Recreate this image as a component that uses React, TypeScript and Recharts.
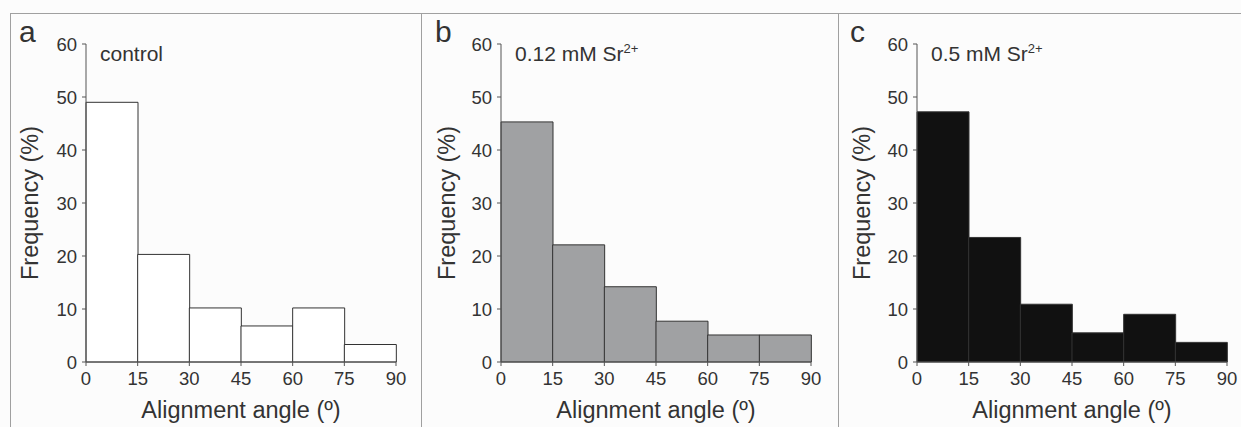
import React from 'react';
import { BarChart, Bar, XAxis, YAxis } from 'recharts';

const bins = ['0-15', '15-30', '30-45', '45-60', '60-75', '75-90'];
const controlValues = [49, 20.3, 10.2, 6.8, 10.2, 3.3];
const sr012Values = [45.3, 22.1, 14.2, 7.7, 5.1, 5.1];
const sr05Values = [47.2, 23.5, 10.9, 5.5, 9.0, 3.7];
const xTicks = [0, 15, 30, 45, 60, 75, 90];
const yTicks = [0, 10, 20, 30, 40, 50, 60];

const FONT = 'Liberation Sans, Arial, sans-serif';
const INK = '#333';
const AXIS = '#555';
const PLOT_W = 310;
const TICK_FS = 18.5;

// tick labels sit on the bin edges, not on the bin centres
function EdgeTick(props: any) {
  const { x, y, payload } = props;
  const half = payload && payload.offset ? payload.offset : PLOT_W / bins.length / 2;
  const i = bins.indexOf(payload.value);
  const edges = [{ bx: x - half, label: xTicks[i] }];
  if (i === bins.length - 1) edges.push({ bx: x + half, label: xTicks[i + 1] });
  return (
    <g>
      {edges.map((e) => (
        <g key={e.label}>
          <line x1={e.bx} x2={e.bx} y1={y} y2={y + 4} stroke={AXIS} />
          <text x={e.bx} y={y + 9} dy="0.75em" textAnchor="middle" fill={INK} fontSize={TICK_FS} fontFamily={FONT}>
            {e.label}
          </text>
        </g>
      ))}
    </g>
  );
}

type PanelProps = {
  letter: string;
  title: React.ReactNode;
  values: number[];
  fill: string;
  plotLeft: number;
  letterX: number;
  ytitleX: number;
};

function Panel({ letter, title, values, fill, plotLeft, letterX, ytitleX }: PanelProps) {
  const data = bins.map((bin, i) => ({ bin, value: values[i] }));
  const left = plotLeft - 60;
  return (
    <div style={{ position: 'absolute', left, top: 0, width: 390, height: 427 }}>
      <BarChart
        width={390}
        height={427}
        data={data}
        margin={{ top: 44, right: 20, bottom: 35, left: 0 }}
        barCategoryGap={0}
      >
        <XAxis
          dataKey="bin"
          interval={0}
          height={30}
          stroke={AXIS}
          tickLine={false}
          tickSize={0}
          tickMargin={0}
          tick={<EdgeTick />}
        />
        <YAxis
          domain={[0, 60]}
          ticks={yTicks}
          interval={0}
          width={60}
          stroke={AXIS}
          tickSize={4}
          tickMargin={5}
          tick={{ fill: INK, fontSize: TICK_FS, fontFamily: FONT }}
        />
        <Bar dataKey="value" fill={fill} stroke={INK} strokeWidth={1} isAnimationActive={false} />
      </BarChart>
      <div style={{ position: 'absolute', left: 60 + PLOT_W / 2, top: 397, transform: 'translateX(-50%)', fontFamily: FONT, fontSize: 23.5, color: INK, whiteSpace: 'nowrap', lineHeight: '26px' }}>
        Alignment angle (º)
      </div>
      <div style={{ position: 'absolute', left: ytitleX - left, top: 203, width: 0, height: 0 }}>
        <div style={{ position: 'absolute', left: 0, top: 0, fontFamily: FONT, fontSize: 23.5, color: INK, whiteSpace: 'nowrap', lineHeight: '26px', transform: 'translate(-50%, -50%) rotate(-90deg)' }}>
          Frequency (%)
        </div>
      </div>
      <div style={{ position: 'absolute', left: letterX - left, top: 17, fontFamily: FONT, fontSize: 30, color: INK, lineHeight: '30px' }}>{letter}</div>
      <div style={{ position: 'absolute', left: 74, top: 42, fontFamily: FONT, fontSize: 21, color: INK, lineHeight: '24px', whiteSpace: 'nowrap' }}>{title}</div>
    </div>
  );
}

const supStyle: React.CSSProperties = { fontSize: 13, verticalAlign: 'top', lineHeight: '13px' };

export default function App() {
  return (
    <div style={{ position: 'absolute', left: 0, top: 0, width: 1241, height: 427, background: '#fcfcfc', overflow: 'hidden' }}>
      <div style={{ position: 'absolute', left: 10, top: 13, right: 0, height: 1, background: '#a0a0a0' }} />
      <div style={{ position: 'absolute', left: 10, top: 13, bottom: 0, width: 1, background: '#a0a0a0' }} />
      <div style={{ position: 'absolute', left: 421, top: 13, bottom: 0, width: 1, background: '#a0a0a0' }} />
      <div style={{ position: 'absolute', left: 838, top: 13, bottom: 0, width: 1, background: '#a0a0a0' }} />
      <Panel letter="a" title="control" values={controlValues} fill="#ffffff" plotLeft={86} letterX={19} ytitleX={30} />
      <Panel letter="b" title={<span>0.12 mM Sr<sup style={supStyle}>2+</sup></span>} values={sr012Values} fill="#a0a1a3" plotLeft={501} letterX={435} ytitleX={447} />
      <Panel letter="c" title={<span>0.5 mM Sr<sup style={supStyle}>2+</sup></span>} values={sr05Values} fill="#111111" plotLeft={917} letterX={850} ytitleX={862} />
    </div>
  );
}
